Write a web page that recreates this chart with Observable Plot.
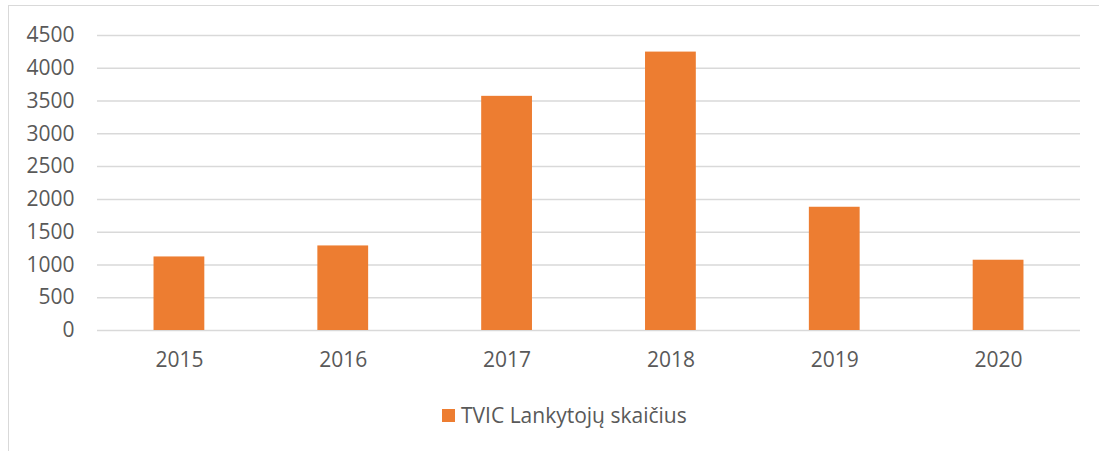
<!DOCTYPE html>
<html>
<head>
<meta charset="utf-8">
<script src="https://cdn.jsdelivr.net/npm/d3@7"></script>
<script src="https://cdn.jsdelivr.net/npm/@observablehq/plot@0.6"></script>
<style>
  html, body { margin: 0; padding: 0; background: #fff; width: 1099px; height: 451px; overflow: hidden; }
  #frame { position: absolute; left: 8px; top: 5px; width: 1200px; height: 600px;
           border-top: 1.5px solid #d9d9d9; border-left: 1.5px solid #d9d9d9; }
  #chart { position: absolute; left: 0; top: 0; }
  #legend { position: absolute; left: 442px; top: 401px; display: flex; align-items: center;
            font-family: "Open Sans", sans-serif; font-size: 21px; color: #595959; }
  #legend .sw { width: 13px; height: 13px; background: #ED7D31; margin-right: 6px; }
</style>
</head>
<body>
<div id="frame"></div>
<div id="chart"></div>
<div id="legend"><div class="sw"></div><span>TVIC Lankytojų skaičius</span></div>
<script>
const years = ["2015", "2016", "2017", "2018", "2019", "2020"];
const visitors = [1122, 1290, 3572, 4247, 1880, 1072];
const yTicks = [0, 500, 1000, 1500, 2000, 2500, 3000, 3500, 4000, 4500];
const seriesName = "TVIC Lankytojų skaičius";

const data = years.map((y, i) => ({year: y, value: visitors[i]}));

const chart = Plot.plot({
  width: 1099,
  height: 390,
  marginLeft: 97,
  marginRight: 19,
  marginTop: 35,
  marginBottom: 60,
  style: {fontFamily: "'Open Sans', sans-serif", fontSize: "21px", color: "#595959", background: "transparent"},
  x: {domain: years, paddingInner: 0.69, paddingOuter: 0.345, round: false, label: null, tickSize: 0, tickPadding: 22},
  y: {domain: [0, 4500], ticks: yTicks, label: null, tickSize: 0, tickPadding: 23, tickFormat: d => String(d)},
  marks: [
    Plot.ruleY(yTicks, {stroke: "#d9d9d9", strokeWidth: 1.5}),
    Plot.barY(data, {x: "year", y: "value", fill: "#ED7D31", title: d => `${seriesName}: ${d.value}`})
  ]
});
document.getElementById("chart").appendChild(chart);
</script>
</body>
</html>
